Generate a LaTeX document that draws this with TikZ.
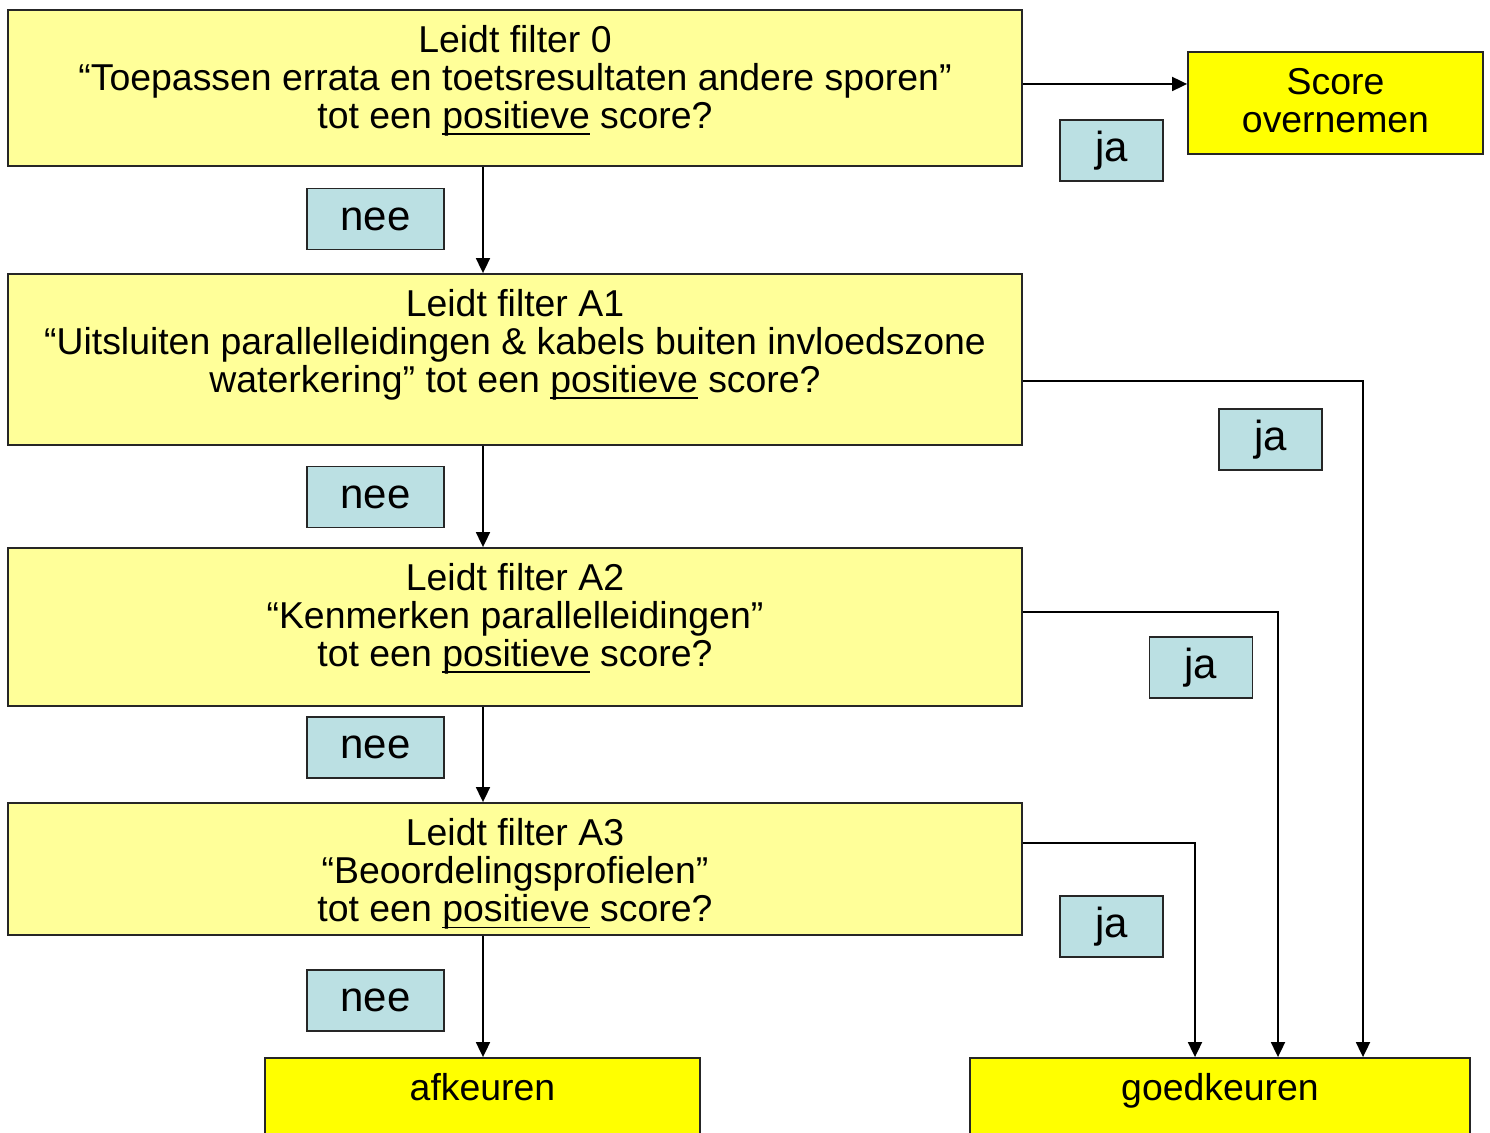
\documentclass[tikz,border=0pt]{standalone}
\usepackage{fontspec}
\setmainfont{Liberation Sans}
\usetikzlibrary{arrows.meta}
\definecolor{lightyel}{HTML}{FFFF99}
\definecolor{fullyel}{HTML}{FFFF00}
\definecolor{labblue}{HTML}{BBE0E3}
\newcommand\myul[1]{\setbox0\hbox{#1}\rlap{\rule[-3.4pt]{\wd0}{0.9pt}}\box0\relax}
\begin{document}
\begin{tikzpicture}[x=0.5pt,y=-0.5pt,
  every node/.style={font=\fontsize{18.7}{19}\selectfont},
  qbox/.style={draw=black!85, line width=0.9pt, fill=lightyel, inner sep=0pt},
  endbox/.style={draw=black!85, line width=0.9pt, fill=fullyel, inner sep=0pt},
  labbox/.style={draw=black!85, line width=0.9pt, fill=labblue, inner sep=0pt,
    minimum width=51.5pt, minimum height=30.5pt, font=\fontsize{21}{22}\selectfont},
  neebox/.style={labbox, minimum width=68.5pt},
  qtext/.style={align=center, anchor=north, inner sep=0pt},
  conn/.style={line width=0.9pt, -{Triangle[length=7.5pt,width=7pt]}}]
\clip (0,0) rectangle (1490,1133);
\fill[white] (0,0) rectangle (1490,1133);
% question boxes
\node[qbox, minimum width=507pt, minimum height=78pt] (f0) at (515,88) {};
\node[qtext] (t0) at (515,25) {Leidt filter 0\\“Toepassen errata en toetsresultaten andere sporen”\\tot een \myul{positieve} score?};
\node[qbox, minimum width=507pt, minimum height=85.5pt] (a1) at (515,359.5) {};
\node[qtext] (t1) at (515,289) {Leidt filter A1\\“Uitsluiten parallelleidingen \& kabels buiten invloedszone\\waterkering” tot een \myul{positieve} score?};
\node[qbox, minimum width=507pt, minimum height=79pt] (a2) at (515,627) {};
\node[qtext] (t2) at (515,563) {Leidt filter A2\\“Kenmerken parallelleidingen”\\tot een \myul{positieve} score?};
\node[qbox, minimum width=507pt, minimum height=66pt] (a3) at (515,869) {};
\node[qtext] (t3) at (515,818) {Leidt filter A3\\“Beoordelingsprofielen”\\tot een \myul{positieve} score?};
% end boxes
\node[endbox, minimum width=147.5pt, minimum height=51pt] (score) at (1335.5,103) {};
\node[qtext] (tscore) at (1335.5,68) {Score\\overnemen};
\node[endbox, minimum width=217.5pt, minimum height=60pt] (afk) at (482.5,1118) {};
\node[qtext] (tafk) at (482.5,1073) {afkeuren};
\node[endbox, minimum width=250pt, minimum height=60pt] (goed) at (1220,1118) {};
\node[qtext] (tgoed) at (1220,1073) {goedkeuren};
% labels
\node[labbox] (ja1) at (1111.5,150.5) {ja};
\node[labbox] (ja2) at (1270.5,439.5) {ja};
\node[labbox] (ja3) at (1201,667.5) {ja};
\node[labbox] (ja4) at (1111.5,926.5) {ja};
\node[neebox] (nee1) at (375.5,219) {nee};
\node[neebox] (nee2) at (375.5,497) {nee};
\node[neebox] (nee3) at (375.5,747.5) {nee};
\node[neebox] (nee4) at (375.5,1000.5) {nee};
% helper coordinates
\coordinate (cx) at (483,0);
\coordinate (y0) at (0,84);
\coordinate (y1) at (0,381);
\coordinate (y2) at (0,612);
\coordinate (y3) at (0,843);
\coordinate (x1) at (1363,0);
\coordinate (x2) at (1278,0);
\coordinate (x3) at (1195,0);
% connectors
\draw[conn] (f0.east |- y0) -- (score.west |- y0);
\draw[conn] (f0.south -| cx) -- (a1.north -| cx);
\draw[conn] (a1.south -| cx) -- (a2.north -| cx);
\draw[conn] (a2.south -| cx) -- (a3.north -| cx);
\draw[conn] (a3.south -| cx) -- (afk.north -| cx);
\draw[conn] (a1.east |- y1) -| (goed.north -| x1);
\draw[conn] (a2.east |- y2) -| (goed.north -| x2);
\draw[conn] (a3.east |- y3) -| (goed.north -| x3);
\end{tikzpicture}
\end{document}
